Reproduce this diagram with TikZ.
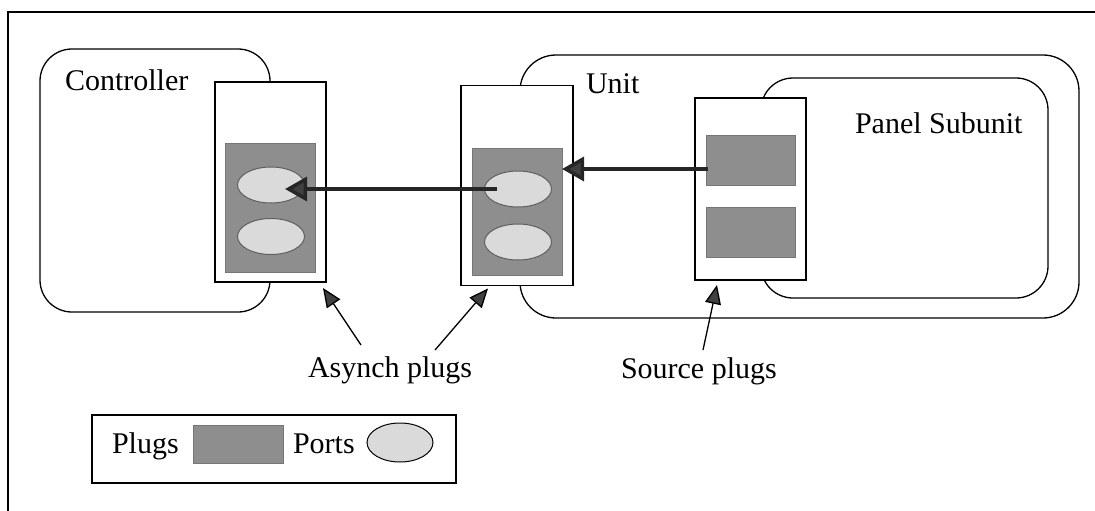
\documentclass[tikz,border=0pt]{standalone}
\usepackage{fontspec}
\setmainfont{Liberation Serif}
\usetikzlibrary{arrows.meta,shapes.geometric}
\definecolor{plugGray}{RGB}{142,142,142}
\definecolor{plugEdge}{RGB}{118,118,118}
\definecolor{portGray}{RGB}{218,218,218}
\definecolor{portEdge}{RGB}{95,95,95}
\begin{document}
\begin{tikzpicture}[x=1pt, y=-1pt,
  every node/.style={font=\fontsize{30}{36}\selectfont, inner sep=0pt, outer sep=0pt},
  area/.style={draw, line width=1.3pt, rounded corners=32pt},
  holder/.style={draw, fill=white, line width=1.3pt},
  plug/.style={draw=plugEdge, fill=plugGray, line width=1pt},
  port/.style={ellipse, draw=portEdge, fill=portGray, line width=1pt, minimum width=67pt, minimum height=36pt},
  flow/.style={line width=3.5pt, draw=black!85, -{Triangle[length=22pt,width=24pt,fill=black!75]}},
  pointer/.style={line width=1.3pt, -{Triangle[length=19pt,width=16pt,fill=black!75]}},
  word/.style={anchor=base west}]
\useasboundingbox (0,0) rectangle (1095,511);
\draw[line width=1.3pt] (8,530) -- (8,12) -- (1100,12);
% containers
\node[area, minimum width=230pt, minimum height=263pt] (ctrl) at (155,180.5) {};
\node[area, rounded corners=36pt, minimum width=559pt, minimum height=263pt] (unit) at (799.5,186.5) {};
\node[area, minimum width=287pt, minimum height=220pt] (panel) at (904.5,188) {};
\node[word] (ctrltext) at (65,91) {Controller};
\node[word] (unittext) at (586,93) {Unit};
\node[word] (paneltext) at (855,133) {Panel Subunit};
% plug holders
\node[holder, minimum width=111pt, minimum height=200pt] (ch) at (270.5,182) {};
\node[holder, minimum width=112pt, minimum height=200pt] (uh) at (517,185.5) {};
\node[holder, minimum width=111pt, minimum height=182pt] (sh) at (750.5,189) {};
\node[plug, minimum width=90pt, minimum height=129pt] (cg) at (270.5,207.5) {};
\node[plug, minimum width=90pt, minimum height=127pt] (ug) at (517,211.5) {};
\node[plug, minimum width=89pt, minimum height=50pt] (sp1) at (750.5,160) {};
\node[plug, minimum width=89pt, minimum height=50pt] (sp2) at (750.5,232) {};
\node[port] (c1) at (271,185) {};
\node[port] (c2) at (271,236.5) {};
\node[port] (u1) at (518,189) {};
\node[port] (u2) at (518,242) {};
% signal flow
\draw[flow] ([xshift=2pt,yshift=-9pt]sp1.west) -- ([yshift=-9pt]ug.east |- sp1.west);
\draw[flow] ([xshift=-21pt]u1.center) -- ([xshift=14pt]c1.center |- u1.center);
% callouts
\node[word] (asynch) at (308,377) {Asynch plugs};
\node[word] (source) at (621,378) {Source plugs};
\draw[pointer] ([xshift=53pt,yshift=32pt]asynch.base west) -- ([xshift=-3pt,yshift=-6pt]ch.south east);
\draw[pointer] ([xshift=127pt,yshift=27pt]asynch.base west) -- ([xshift=27pt,yshift=-3pt]uh.south west);
\draw[pointer] ([xshift=82pt,yshift=28pt]source.base west) -- ([xshift=22pt,yshift=-5pt]sh.south west);
% legend
\node[draw, line width=1.3pt, minimum width=364pt, minimum height=68pt] (legend) at (274,449) {};
\node[word] (plugstext) at (112,453) {Plugs};
\node[plug, minimum width=90pt, minimum height=38pt] (legplug) at (238,444) {};
\node[word] (portstext) at (293,453) {Ports};
\node[port, draw=black, minimum width=66pt, minimum height=39pt] (legport) at (400,442.5) {};
\end{tikzpicture}
\end{document}
